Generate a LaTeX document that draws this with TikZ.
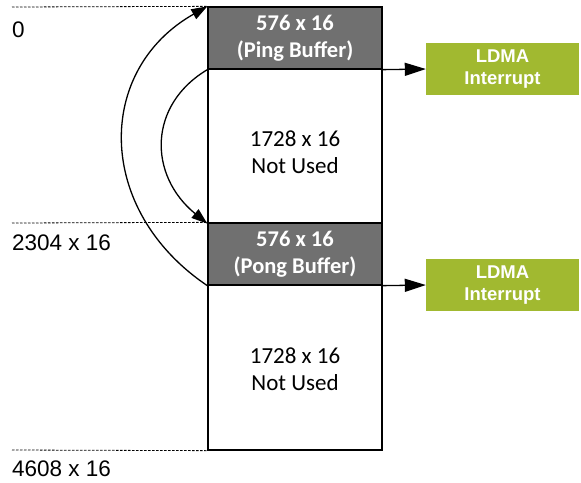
\documentclass[tikz,border=0pt]{standalone}
\usepackage{fontspec}
\setmainfont{Carlito}
\newfontfamily\arialfont{Liberation Sans}
\usetikzlibrary{arrows.meta}
\definecolor{bufgray}{RGB}{112,112,112}
\definecolor{ldmagreen}{RGB}{161,185,48}
\begin{document}
\begin{tikzpicture}[x=1pt,y=-1pt,
  region/.style={draw=black,line width=1.3pt,inner sep=0pt},
  bufregion/.style={region,fill=bufgray,text=white,font=\fontsize{22.5}{27}\selectfont\bfseries,align=center},
  freeregion/.style={region,fill=white,font=\fontsize{23}{27}\selectfont,align=center},
  irqbox/.style={fill=ldmagreen,text=white,font=\arialfont\fontsize{18.5}{22}\selectfont\bfseries,align=center,inner sep=0pt},
  addr/.style={font=\arialfont\fontsize{22.5}{26}\selectfont,anchor=west,inner sep=0pt},
  guide/.style={dashed,dash pattern=on 2.5pt off 1.5pt,line width=0.8pt},
  flow/.style={line width=1.3pt,-{Triangle[length=16pt,width=11pt]}},
  irqflow/.style={line width=1.3pt,-{Triangle[length=21pt,width=13pt]}}
]
\useasboundingbox (0,0) rectangle (581,482);

% memory regions
\node[bufregion,minimum width=174pt,minimum height=62pt] (ping) at (295,38) {576 x 16\\(Ping Buffer)};
\node[region,minimum width=174pt,minimum height=154pt] (free1) at (295,146) {};
\node[freeregion,draw=none] (free1txt) at (295,152) {1728 x 16\\Not Used};
\node[bufregion,minimum width=174pt,minimum height=62pt] (pong) at (295,254) {576 x 16\\(Pong Buffer)};
\node[region,minimum width=174pt,minimum height=165pt] (free2) at (295,367.5) {};
\node[freeregion,draw=none] (free2txt) at (295,369.5) {1728 x 16\\Not Used};

% interrupt boxes
\node[irqbox,minimum width=153pt,minimum height=52pt] (irq1) at (502.5,69) {LDMA\\Interrupt};
\node[irqbox,minimum width=153pt,minimum height=52pt] (irq2) at (502.5,285) {LDMA\\Interrupt};

% address guides
\coordinate (g0) at (12,7);
\coordinate (g1) at (12,223);
\coordinate (g2) at (12,450);
\draw[guide] (g0) -- (ping.north west);
\draw[guide] (g1) -- (pong.north west);
\draw[guide] (g2) -- (free2.south west);
\node[addr] (a0) at (12,30) {0};
\node[addr] (a1) at (12,243) {2304 x 16};
\node[addr] (a2) at (12,469) {4608 x 16};

% interrupt arrows
\draw[irqflow] (ping.south east) -- (irq1.west);
\draw[irqflow] (pong.south east) -- (irq2.west);

% ping-pong loop arrows
\draw[flow] (pong.south west) .. controls (95,210) and (95,70) .. (ping.north west);
\draw[flow] (ping.south west) .. controls (148,105) and (148,175) .. (free1.south west);
\end{tikzpicture}
\end{document}
